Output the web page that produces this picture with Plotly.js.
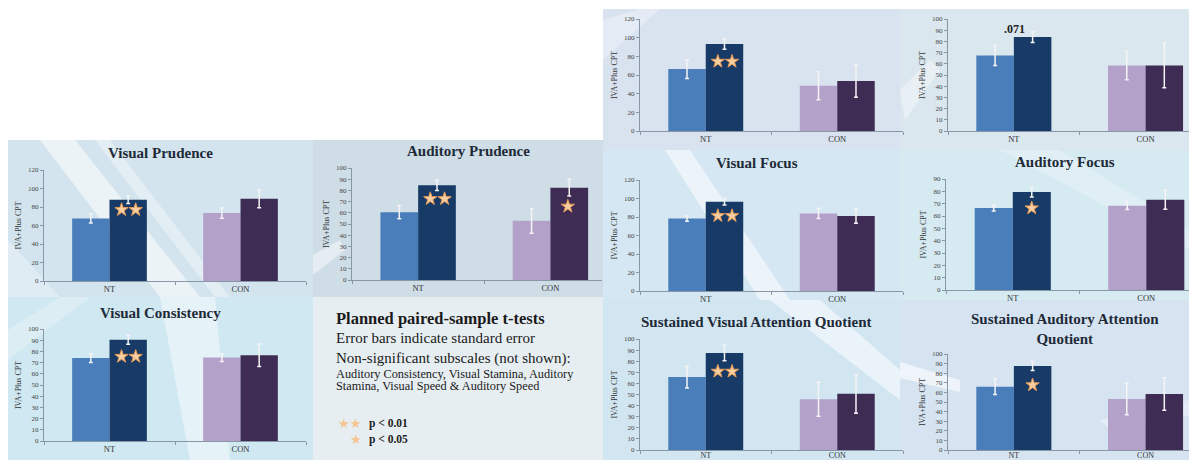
<!DOCTYPE html>
<html>
<head>
<meta charset="utf-8">
<script src="https://cdn.plot.ly/plotly-3.0.1.min.js"></script>
<style>html,body{margin:0;padding:0;background:#fff}#chart{width:1189px;height:460px}</style>
</head>
<body>
<div id="chart"></div>
<script>
// ---------------- data ----------------
const groups = ['NT', 'CON'];
const panelTitles = ['Visual Prudence', 'Auditory Prudence', 'Visual Consistency', '', '',
  'Visual Focus', 'Auditory Focus', 'Sustained Visual Attention Quotient',
  'Sustained Auditory Attention<br>Quotient'];
const preMean  = [[67.5, 73.4], [60.6, 52.8], [74, 74.5], [66.3, 48.4], [67.5, 58.5], [78.4, 83.9], [66.4, 68.3], [65.7, 45.8], [66, 53.1]];
const postMean = [[87.8, 88.8], [84.5, 82.4], [90.4, 76.6], [93.1, 53.7], [83.9, 58.5], [96.5, 81.0], [79.4, 73.2], [87.3, 50.6], [87.5, 58.3]];
const preSE    = [[4.8, 5.5], [6, 11], [4, 3.5], [10, 15], [9, 12.7], [3, 5.5], [2.3, 3], [9.8, 15.3], [8.2, 16.5]];
const postSE   = [[4, 9.5], [4.5, 7.5], [4, 10], [5.5, 17.5], [4.8, 19.8], [3.5, 7.8], [4, 7.7], [7, 17.5], [4.8, 17]];
const starsNT  = [2, 2, 2, 2, 0, 2, 1, 2, 1];
const starsCON = [0, 1, 0, 0, 0, 0, 0, 0, 0];
const starLevelNT  = [77, 72.5, 75.4, 74.5, null, 81.3, 66.4, 70.8, 67.7];
const starLevelCON = [null, 65.7, null, null, null, null, null, null, null];
const yMax  = [120, 100, 100, 120, 100, 120, 90, 100, 100];
const yStep = [20, 10, 10, 20, 10, 20, 10, 10, 10];
const yTitle = 'IVA+Plus CPT';
const trendPanel = 4, trendText = '.071', trendLevel = 91;
const noteLines = ['Planned paired-sample t-tests', 'Error bars indicate standard error',
  'Non-significant subscales (not shown):',
  'Auditory Consistency, Visual Stamina, Auditory',
  'Stamina, Visual Speed & Auditory Speed'];
const sigLabels = ['p < 0.01', 'p < 0.05'];

// ---------------- layout geometry (pixels) ----------------
const W = 1189, H = 460;
const px = x => x / W, py = y => 1 - y / H;
// [xLeft, xRight, yTop, yBottom, xRangeMax]
const boxes = [
  [44, 306, 170, 281, 1.5],
  [352, 602, 168, 280, 1.39],
  [44, 306, 329, 441, 1.5],
  [640, 903, 19, 131, 1.5],
  [948, 1189, 19, 131, 1.33],
  [640, 903, 180, 291, 1.5],
  [946, 1189, 179, 290, 1.32],
  [640, 903, 339, 450, 1.5],
  [948, 1189, 354, 450, 1.33]
];
const titlePos = [[160, 153], [468, 151], [160, 313], null, null, [757, 163], [1065, 162], [756, 322], [1065, 329]];

const preColors = ['#4a7ebb', '#b4a1c9'];
const postColors = ['#173a66', '#3f2c55'];
const axisColor = '#8797a6';
const serif = 'Liberation Serif, Times New Roman, serif';
const halfBar = 0.142;

const data = [];
const layout = {
  width: W, height: H, margin: {l: 0, r: 0, t: 0, b: 0},
  paper_bgcolor: '#ffffff', plot_bgcolor: 'rgba(0,0,0,0)',
  showlegend: false, barmode: 'group', bargap: 0.43, bargroupgap: 0,
  shapes: [], annotations: []
};

boxes.forEach((b, i) => {
  const n = i + 1, xa = 'x' + (n === 1 ? '' : n), ya = 'y' + (n === 1 ? '' : n);
  data.push({type: 'bar', x: [0, 1], y: preMean[i], xaxis: xa, yaxis: ya,
    marker: {color: preColors},
    error_y: {type: 'data', array: preSE[i], color: '#f4f4f4', thickness: 1.5, width: 2}});
  data.push({type: 'bar', x: [0, 1], y: postMean[i], xaxis: xa, yaxis: ya,
    marker: {color: postColors},
    error_y: {type: 'data', array: postSE[i], color: '#f4f4f4', thickness: 1.5, width: 2}});
  const sx = [], sy = [];
  if (starsNT[i] === 2) { sx.push(halfBar - 0.05, halfBar + 0.058); sy.push(starLevelNT[i], starLevelNT[i]); }
  if (starsNT[i] === 1) { sx.push(halfBar); sy.push(starLevelNT[i]); }
  if (starsCON[i] === 1) { sx.push(1 + halfBar - 0.01); sy.push(starLevelCON[i]); }
  if (sx.length) data.push({type: 'scatter', mode: 'markers', x: sx, y: sy, xaxis: xa, yaxis: ya,
    marker: {symbol: 'star', size: 10, color: '#f8cfa2', line: {color: '#e59a55', width: 1}}, hoverinfo: 'skip'});

  const xk = 'xaxis' + (n === 1 ? '' : n), yk = 'yaxis' + (n === 1 ? '' : n);
  const bottomRow = (i === 7 || i === 8);
  layout[xk] = {domain: [px(b[0]), px(b[1])], range: [-0.5, b[4]], anchor: ya,
    tickmode: 'array', tickvals: [0, 1], ticktext: groups, ticks: '',
    showline: true, linecolor: axisColor, linewidth: 1, zeroline: false, showgrid: false,
    tickfont: {family: serif, size: bottomRow ? 8 : 8.5, color: '#333'}, automargin: false,
    ticklabelstandoff: bottomRow ? -3 : 0,
    minor: {tickmode: 'linear', tick0: -0.5, dtick: 1, ticks: 'outside', ticklen: 3, tickcolor: axisColor, showgrid: false}};
  layout[yk] = {domain: [py(b[3]), py(b[2])], range: [0, yMax[i]], anchor: xa, dtick: yStep[i],
    ticks: 'outside', ticklen: 3, tickcolor: axisColor, showline: true, linecolor: axisColor,
    showgrid: false, zeroline: false, automargin: false,
    tickfont: {family: serif, size: 7, color: '#444'},
    title: {text: yTitle, standoff: 5, font: {family: serif, size: 8, color: '#333'}}};
  if (titlePos[i]) layout.annotations.push({xref: 'paper', yref: 'paper', x: px(titlePos[i][0]), y: py(titlePos[i][1]),
    text: '<b>' + panelTitles[i] + '</b>', showarrow: false, xanchor: 'center', yanchor: 'middle',
    font: {family: serif, size: 15, color: '#1f2a38'}});
});
layout.annotations.push({xref: 'x' + (trendPanel + 1), yref: 'y' + (trendPanel + 1), x: halfBar - 0.14, y: trendLevel,
  text: '<b>' + trendText + '</b>', showarrow: false, font: {family: serif, size: 12, color: '#222'}});

// background tiles
function rect(x0, y0, x1, y1, c) {
  layout.shapes.push({type: 'rect', xref: 'paper', yref: 'paper', layer: 'below', x0: px(x0), x1: px(x1), y0: py(y1), y1: py(y0), fillcolor: c, line: {width: 0}});
}
function poly(pts, c) {
  const d = 'M' + pts.map(p => px(p[0]) + ',' + py(p[1])).join(' L') + ' Z';
  layout.shapes.push({type: 'path', xref: 'paper', yref: 'paper', layer: 'below', path: d, fillcolor: c, line: {width: 0}});
}
rect(8, 140, 313, 297, '#d3e4ee');
rect(313, 140, 603, 297, '#cfdde7');
rect(8, 297, 313, 460, '#d0e8f1');
rect(603, 9, 900, 150, '#d9e2ef');
rect(900, 9, 1189, 150, '#dbe7ef');
rect(603, 150, 900, 300, '#d4e7f2');
rect(900, 150, 1189, 300, '#d6eaf2');
rect(603, 300, 900, 460, '#d2e6f2');
rect(900, 300, 1189, 460, '#d6e4f2');
// light streaks
poly([[40, 140], [75, 140], [200, 297], [160, 297]], 'rgba(255,255,255,0.55)');
poly([[95, 140], [110, 140], [230, 297], [215, 297]], 'rgba(255,255,255,0.35)');
poly([[8, 240], [8, 297], [60, 297]], 'rgba(255,255,255,0.3)');
poly([[160, 297], [215, 297], [230, 460], [190, 460]], 'rgba(255,255,255,0.45)');
poly([[8, 330], [60, 297], [90, 297], [8, 360]], 'rgba(255,255,255,0.25)');
poly([[313, 255], [340, 240], [345, 250], [313, 275]], 'rgba(255,255,255,0.45)');
poly([[603, 20], [640, 9], [660, 9], [603, 60]], 'rgba(255,255,255,0.3)');
poly([[665, 150], [690, 150], [790, 300], [760, 300]], 'rgba(255,255,255,0.55)');
poly([[900, 90], [930, 60], [940, 70], [905, 120]], 'rgba(255,255,255,0.4)');
poly([[770, 300], [820, 300], [900, 370], [900, 400]], 'rgba(255,255,255,0.5)');
poly([[900, 362], [960, 380], [960, 392], [900, 378]], 'rgba(255,255,255,0.6)');
poly([[1100, 420], [1189, 400], [1189, 415], [1110, 430]], 'rgba(255,255,255,0.35)');
poly([[1000, 150], [1060, 150], [1189, 230], [1189, 250]], 'rgba(255,255,255,0.25)');
// note box
rect(313, 297, 603, 460, '#e7eef2');

const noteY = [318, 338, 358, 374, 386];
const noteSize = [16.5, 15, 15, 12.3, 12.3];
noteLines.forEach((t, k) => layout.annotations.push({xref: 'paper', yref: 'paper', x: px(334), y: py(noteY[k]),
  xanchor: 'left', yanchor: 'middle', showarrow: false,
  text: k === 0 ? '<b>' + t + '</b>' : t, font: {family: serif, size: noteSize[k], color: '#1a1a1a'}}));
layout.annotations.push({xref: 'paper', yref: 'paper', x: px(336), y: py(423), xanchor: 'left', yanchor: 'middle', showarrow: false,
  text: '★★', font: {family: 'DejaVu Sans', size: 13, color: '#f5c48f'}});
layout.annotations.push({xref: 'paper', yref: 'paper', x: px(348), y: py(439), xanchor: 'left', yanchor: 'middle', showarrow: false,
  text: '★', font: {family: 'DejaVu Sans', size: 13, color: '#f5c48f'}});
sigLabels.forEach((t, k) => layout.annotations.push({xref: 'paper', yref: 'paper', x: px(367), y: py(k === 0 ? 423 : 439),
  xanchor: 'left', yanchor: 'middle', showarrow: false, text: '<b>' + t + '</b>', font: {family: serif, size: 11.5, color: '#222'}}));

Plotly.newPlot('chart', data, layout, {staticPlot: true});
</script>
</body>
</html>
